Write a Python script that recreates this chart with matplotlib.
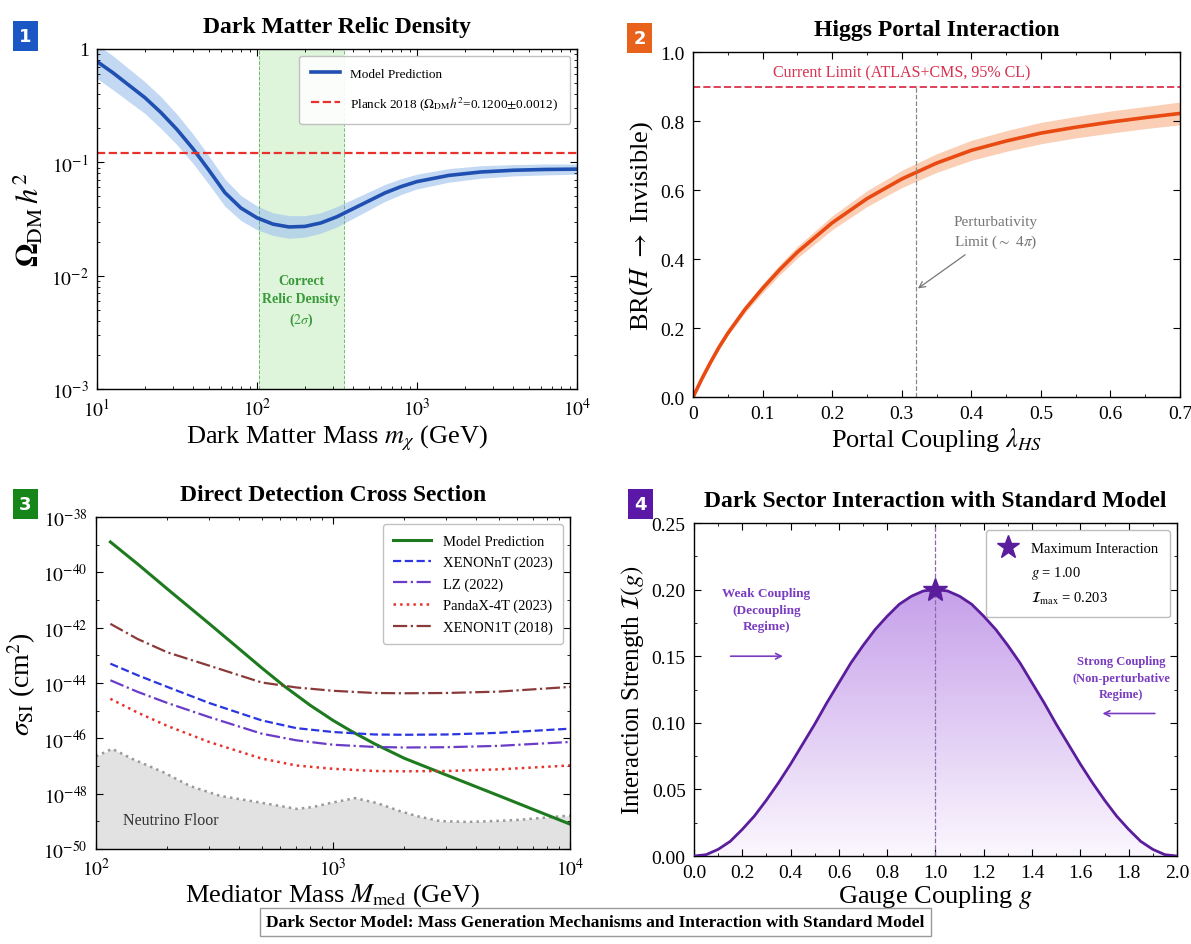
import numpy as np
import matplotlib
matplotlib.use("Agg")
import matplotlib.pyplot as plt
from matplotlib.lines import Line2D
from matplotlib.colors import LinearSegmentedColormap
from matplotlib.ticker import LogLocator, NullFormatter, AutoMinorLocator

plt.rcParams['font.family'] = ['Liberation Serif', 'DejaVu Serif']
plt.rcParams['mathtext.fontset'] = 'stix'
plt.rcParams['xtick.direction'] = 'in'
plt.rcParams['ytick.direction'] = 'in'
plt.rcParams['xtick.top'] = True
plt.rcParams['ytick.right'] = True

# ---- panel 1: relic density ----
mass_dm = [10.0, 12.59, 15.85, 19.95, 25.12, 31.62, 39.81, 50.12, 63.10, 79.43, 100.0,
           125.9, 158.5, 199.5, 251.2, 316.2, 398.1, 501.2, 631.0, 794.3, 1000.0,
           1585.0, 2512.0, 3981.0, 6310.0, 10000.0]
omega = [0.776, 0.617, 0.479, 0.372, 0.275, 0.195, 0.132, 0.0851, 0.0540, 0.0395,
         0.0324, 0.0285, 0.0269, 0.0272, 0.0292, 0.0331, 0.0389, 0.0457, 0.0537,
         0.0610, 0.0676, 0.0767, 0.0822, 0.0851, 0.0865, 0.0871]
omega_err_dex = [0.15, 0.15, 0.145, 0.14, 0.14, 0.135, 0.13, 0.125, 0.12, 0.11, 0.105,
                 0.10, 0.10, 0.095, 0.09, 0.09, 0.085, 0.08, 0.075, 0.07, 0.065, 0.06,
                 0.055, 0.05, 0.048, 0.045]
planck_omega = 0.12
relic_band = [103.0, 350.0]

# ---- panel 2: higgs portal ----
lam_hs = [0.0, 0.0125, 0.025, 0.0375, 0.05, 0.075, 0.1, 0.125, 0.15, 0.2, 0.25, 0.3,
          0.35, 0.4, 0.45, 0.5, 0.55, 0.6, 0.65, 0.7]
br_inv = [0.0, 0.052, 0.10, 0.145, 0.185, 0.255, 0.315, 0.370, 0.42, 0.505, 0.575,
          0.632, 0.678, 0.715, 0.742, 0.765, 0.782, 0.797, 0.810, 0.822]
br_err = [0.0, 0.002, 0.004, 0.006, 0.007, 0.010, 0.013, 0.015, 0.017, 0.020, 0.023,
          0.025, 0.027, 0.029, 0.030, 0.031, 0.031, 0.032, 0.032, 0.033]
br_limit = 0.9
lam_pert = 0.32

# ---- panel 3: direct detection ----
m_model = [115, 150, 200, 300, 400, 500, 620, 800, 1000, 1200, 1500, 2000, 3000, 5000,
           10000]
log_sigma_model = [-38.90, -39.70, -40.60, -41.85, -42.75, -43.45, -44.10, -44.80,
                   -45.35, -45.75, -46.20, -46.72, -47.32, -48.07, -49.10]
m_med = [115, 150, 200, 300, 500, 700, 1000, 1500, 2000, 3000, 5000, 10000]
log_sigma_xenonnt = [-43.30, -43.72, -44.14, -44.72, -45.35, -45.63, -45.77, -45.86,
                     -45.87, -45.86, -45.80, -45.65]
log_sigma_lz = [-43.90, -44.32, -44.72, -45.23, -45.83, -46.07, -46.23, -46.31,
                -46.33, -46.32, -46.27, -46.13]
log_sigma_pandax = [-44.57, -45.07, -45.55, -46.13, -46.73, -46.98, -47.10, -47.18,
                    -47.19, -47.18, -47.12, -46.98]
log_sigma_xenon1t = [-41.86, -42.41, -42.89, -43.37, -43.98, -44.16, -44.28, -44.36,
                     -44.37, -44.36, -44.31, -44.14]
m_floor = [100, 117, 143, 192, 249, 334, 478, 705, 824, 970, 1239, 1535, 1919, 2259,
           2825, 3673, 4732, 5970, 7464, 9333, 10000]
log_sigma_floor = [-46.65, -46.38, -46.75, -47.22, -47.72, -48.08, -48.30, -48.55,
                   -48.48, -48.34, -48.16, -48.34, -48.63, -48.81, -48.99, -49.02,
                   -48.99, -48.95, -48.88, -48.81, -48.80]

# ---- panel 4: interaction strength ----
g_coupling = [0.0, 0.05, 0.1, 0.15, 0.2, 0.25, 0.3, 0.35, 0.4, 0.45, 0.5, 0.55, 0.6,
              0.65, 0.7, 0.75, 0.8, 0.85, 0.9, 0.95, 1.0, 1.05, 1.1, 1.15, 1.2, 1.25,
              1.3, 1.35, 1.4, 1.45, 1.5, 1.55, 1.6, 1.65, 1.7, 1.75, 1.8, 1.85, 1.9,
              1.95, 2.0]
strength = [0.0, 0.001, 0.005, 0.011, 0.020, 0.030, 0.042, 0.055, 0.069, 0.084, 0.099,
            0.115, 0.130, 0.145, 0.158, 0.170, 0.180, 0.189, 0.195, 0.199, 0.200,
            0.199, 0.195, 0.189, 0.180, 0.170, 0.158, 0.145, 0.130, 0.115, 0.099,
            0.084, 0.069, 0.055, 0.042, 0.030, 0.020, 0.011, 0.005, 0.001, 0.0]
g_max = 1.00
strength_max = 0.203

fig = plt.figure(figsize=(11.91, 9.45), dpi=100)

ax1 = fig.add_axes([0.0814, 0.5873, 0.403, 0.3598])
ax2 = fig.add_axes([0.5819, 0.5788, 0.4089, 0.3651])
ax3 = fig.add_axes([0.0806, 0.1005, 0.398, 0.3513])
ax4 = fig.add_axes([0.5827, 0.0931, 0.4055, 0.3524])

TITLE_FS = 17
LABEL_FS = 19
TICK_FS = 14

# panel 1
m1 = np.array(mass_dm)
om = np.array(omega)
err = np.array(omega_err_dex)
ax1.axvspan(relic_band[0], relic_band[1], color='#c9efc4', alpha=0.6, lw=0)
for xv in relic_band:
    ax1.axvline(xv, color='#4caf50', ls='--', lw=0.7, alpha=0.8)
ax1.fill_between(m1, om * 10**(-err), om * 10**err, color='#a8c8ee', alpha=0.7, lw=0)
ax1.plot(m1, om, color='#1f4fb0', lw=2.6, label='Model Prediction')
ax1.axhline(planck_omega, color='#e8302c', ls='--', lw=1.6,
            label=r'Planck 2018 ($\Omega_{\rm DM}h^2$=0.1200$\pm$0.0012)')
ax1.text(np.sqrt(relic_band[0] * relic_band[1]), 6e-3, 'Correct\nRelic Density\n($2\\sigma$)',
         color='#3a9a3a', ha='center', va='center', fontsize=10, fontweight='bold',
         linespacing=1.5)
ax1.set_xscale('log')
ax1.set_yscale('log')
ax1.set_xlim(10, 1e4)
ax1.set_ylim(1e-3, 1)
ax1.set_yticks([1e-3, 1e-2, 1e-1, 1])
ax1.set_yticklabels([r'$10^{-3}$', r'$10^{-2}$', r'$10^{-1}$', '1'])
ax1.set_xticks([10, 100, 1000, 10000])
ax1.set_xticklabels([r'$10^{1}$', r'$10^{2}$', r'$10^{3}$', r'$10^{4}$'])
ax1.xaxis.set_minor_locator(LogLocator(base=10, subs=np.arange(2, 10)))
ax1.yaxis.set_minor_locator(LogLocator(base=10, subs=np.arange(2, 10)))
ax1.xaxis.set_minor_formatter(NullFormatter())
ax1.yaxis.set_minor_formatter(NullFormatter())
ax1.set_xlabel(r'Dark Matter Mass $m_\chi$ (GeV)', fontsize=LABEL_FS, labelpad=2)
ax1.set_ylabel(r'$\mathbf{\Omega_{\rm DM}}\,\boldsymbol{h^2}$', fontsize=LABEL_FS + 3)
ax1.set_title('Dark Matter Relic Density', fontsize=TITLE_FS, fontweight='bold', pad=12)
ax1.legend(loc='upper right', fontsize=9.5, framealpha=0.9, edgecolor='#bbbbbb',
           borderpad=0.9, labelspacing=1.1, handlelength=2.2)

# panel 2
lx = np.array(lam_hs)
by = np.array(br_inv)
be = np.array(br_err)
ax2.fill_between(lx, by - be, by + be, color='#f9c3a3', alpha=0.8, lw=0)
ax2.plot(lx, by, color='#e84a12', lw=2.6)
ax2.axhline(br_limit, color='#e0405a', ls='--', lw=1.4)
ax2.text(0.30, 0.94, 'Current Limit (ATLAS+CMS, 95% CL)', color='#d8304f',
         ha='center', va='center', fontsize=11.5)
ax2.plot([lam_pert, lam_pert], [0, br_limit], color='#888888', ls='--', lw=0.9)
ax2.annotate('Perturbativity\nLimit ($\\sim$ 4$\\pi$)', xy=(lam_pert, 0.31),
             xytext=(0.375, 0.44), color='#777777', fontsize=11, ha='left',
             multialignment='left', linespacing=1.4,
             arrowprops=dict(arrowstyle='->', color='#777777', lw=0.9))
ax2.set_xlim(0, 0.7)
ax2.set_ylim(0, 1.0)
ax2.set_xticks([0, 0.1, 0.2, 0.3, 0.4, 0.5, 0.6, 0.7])
ax2.set_xticklabels(['0', '0.1', '0.2', '0.3', '0.4', '0.5', '0.6', '0.7'])
ax2.set_yticks([0.0, 0.2, 0.4, 0.6, 0.8, 1.0])
ax2.set_yticklabels(['0.0', '0.2', '0.4', '0.6', '0.8', '1.0'])
ax2.xaxis.set_minor_locator(AutoMinorLocator(2))
ax2.set_xlabel(r'Portal Coupling $\lambda_{HS}$', fontsize=LABEL_FS, labelpad=2)
ax2.set_ylabel(r'BR($H$ $\rightarrow$ Invisible)', fontsize=LABEL_FS)
ax2.set_title('Higgs Portal Interaction', fontsize=TITLE_FS, fontweight='bold', pad=12)

# panel 3
mm = np.array(m_med, dtype=float)
mf = np.array(m_floor, dtype=float)
sf = 10.0 ** np.array(log_sigma_floor)
ax3.fill_between(mf, 1e-50, sf, color='#e2e2e2', lw=0)
ax3.plot(mf, sf, color='#999999', ls=':', lw=1.8)
ax3.text(130, 1.1e-49, 'Neutrino Floor', fontsize=11.5, color='#333333', va='center')
ax3.plot(m_model, 10.0 ** np.array(log_sigma_model), color='#1e7a1e', lw=2.2,
         label='Model Prediction')
ax3.plot(mm, 10.0 ** np.array(log_sigma_xenonnt), color='#2b35e0', ls='--', lw=1.6,
         label='XENONnT (2023)')
ax3.plot(mm, 10.0 ** np.array(log_sigma_lz), color='#6a3cc8', ls='-.', lw=1.6,
         label='LZ (2022)')
ax3.plot(mm, 10.0 ** np.array(log_sigma_pandax), color='#e8312c', ls=':', lw=1.8,
         label='PandaX-4T (2023)')
ax3.plot(mm, 10.0 ** np.array(log_sigma_xenon1t), color='#8b3a3a', ls='-.', lw=1.6,
         label='XENON1T (2018)')
ax3.set_xscale('log')
ax3.set_yscale('log')
ax3.set_xlim(100, 1e4)
ax3.set_ylim(1e-50, 1e-38)
ax3.set_yticks([10.0 ** p for p in range(-50, -37, 2)])
ax3.set_yticklabels([r'$10^{%d}$' % p for p in range(-50, -37, 2)])
ax3.set_yticks([10.0 ** p for p in range(-49, -38, 2)], minor=True)
ax3.set_xticks([100, 1000, 10000])
ax3.set_xticklabels([r'$10^{2}$', r'$10^{3}$', r'$10^{4}$'])
ax3.xaxis.set_minor_locator(LogLocator(base=10, subs=np.arange(2, 10)))
ax3.xaxis.set_minor_formatter(NullFormatter())
ax3.yaxis.set_minor_formatter(NullFormatter())
ax3.set_xlabel(r'Mediator Mass $M_{\rm med}$ (GeV)', fontsize=LABEL_FS, labelpad=1)
ax3.set_ylabel(r'$\sigma_{\rm SI}$ (cm$^2$)', fontsize=LABEL_FS + 1)
ax3.set_title('Direct Detection Cross Section', fontsize=TITLE_FS, fontweight='bold', pad=12)
ax3.legend(loc='upper right', fontsize=10.5, framealpha=0.9, edgecolor='#bbbbbb',
           borderpad=0.7, labelspacing=0.55, handlelength=2.6)

# panel 4
gx = np.array(g_coupling)
iy = np.array(strength)
purple = '#5a1e9c'
grad = LinearSegmentedColormap.from_list('pg', ['#fbf7fe', '#c6a0ea'])
img = ax4.imshow(np.linspace(0, 1, 256).reshape(-1, 1), cmap=grad, origin='lower',
                 extent=[0, 2, 0, max(strength)], aspect='auto', zorder=1)
poly = ax4.fill_between(gx, 0, iy, color='none', lw=0)
img.set_clip_path(poly.get_paths()[0], transform=ax4.transData)
ax4.plot(gx, iy, color=purple, lw=2.0, zorder=3)
ax4.axvline(g_max, color='#8a6aa8', ls='--', lw=0.9, zorder=2)
ax4.plot([g_max], [0.20], marker='*', color=purple, markersize=18, zorder=4)
ax4.text(0.30, 0.185, 'Weak Coupling\n(Decoupling\nRegime)', color='#7a3cc0',
         fontsize=9.5, fontweight='bold', ha='center', va='center', linespacing=1.5)
ax4.annotate('', xy=(0.38, 0.15), xytext=(0.14, 0.15),
             arrowprops=dict(arrowstyle='->', color='#7a3cc0', lw=1.2))
ax4.text(1.77, 0.134, 'Strong Coupling\n(Non-perturbative\nRegime)', color='#7a3cc0',
         fontsize=9, fontweight='bold', ha='center', va='center', linespacing=1.5)
ax4.annotate('', xy=(1.68, 0.107), xytext=(1.92, 0.107),
             arrowprops=dict(arrowstyle='->', color='#7a3cc0', lw=1.2))
handles = [Line2D([], [], marker='*', color=purple, ls='none', markersize=17),
           Line2D([], [], ls='none'),
           Line2D([], [], ls='none')]
labels = ['Maximum Interaction', r'$g$ = %.2f' % g_max,
          r'$\mathcal{I}_{\rm max}$ = %.3f' % strength_max]
ax4.legend(handles, labels, loc='upper right', fontsize=10.5, framealpha=0.95,
           edgecolor='#bbbbbb', borderpad=0.8, labelspacing=0.6, handlelength=1.5)
ax4.set_xlim(0, 2.0)
ax4.set_ylim(0, 0.25)
ax4.set_xticks(np.arange(0, 2.01, 0.2))
ax4.set_xticklabels(['%.1f' % v for v in np.arange(0, 2.01, 0.2)])
ax4.set_yticks([0.0, 0.05, 0.10, 0.15, 0.20, 0.25])
ax4.set_yticklabels(['0.00', '0.05', '0.10', '0.15', '0.20', '0.25'])
ax4.xaxis.set_minor_locator(AutoMinorLocator(2))
ax4.yaxis.set_minor_locator(AutoMinorLocator(2))
ax4.set_xlabel(r'Gauge Coupling $g$', fontsize=LABEL_FS, labelpad=1)
ax4.set_ylabel(r'Interaction Strength $\mathcal{I}(g)$', fontsize=LABEL_FS - 1)
ax4.set_title('Dark Sector Interaction with Standard Model', fontsize=TITLE_FS,
              fontweight='bold', pad=12)

for ax in (ax1, ax2, ax3, ax4):
    ax.tick_params(axis='both', which='major', labelsize=TICK_FS, length=5, width=0.8,
                   pad=6)
    ax.tick_params(axis='both', which='minor', length=2.5, width=0.6)
    for sp in ax.spines.values():
        sp.set_linewidth(1.0)

# panel badges
badges = [('1', '#1a56c4', 0.0109, 0.9746), ('2', '#e8621c', 0.5265, 0.9725),
          ('3', '#16851a', 0.0109, 0.4794), ('4', '#5b18a6', 0.5273, 0.4794)]
for num, col, bx, by_ in badges:
    fig.text(bx + 0.0105, by_ - 0.0137, num, color='white', fontsize=13, fontweight='bold',
             family='DejaVu Sans', ha='center', va='center',
             bbox=dict(boxstyle='square,pad=0.35', fc=col, ec='none'))

fig.text(0.5, 0.0235,
         'Dark Sector Model: Mass Generation Mechanisms and Interaction with Standard Model',
         ha='center', va='center', fontsize=12.5, fontweight='bold',
         bbox=dict(boxstyle='square,pad=0.35', fc='white', ec='#999999', lw=1.0))

fig.savefig('out.png', dpi=100)
